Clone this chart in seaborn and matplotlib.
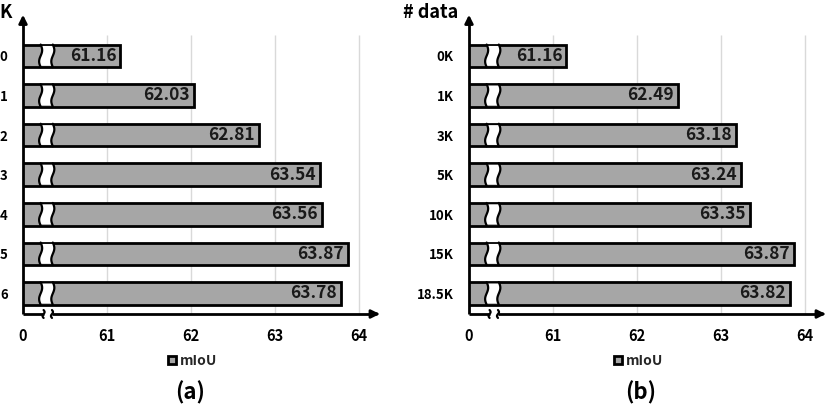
import numpy as np
import pandas as pd
import matplotlib
matplotlib.use("Agg")
import matplotlib.pyplot as plt
import seaborn as sns
from matplotlib.patches import Patch, Polygon

# ---- data ----
k_labels = ['0', '1', '2', '3', '4', '5', '6']
k_miou = [61.16, 62.03, 62.81, 63.54, 63.56, 63.87, 63.78]
data_labels = ['0K', '1K', '3K', '5K', '10K', '15K', '18.5K']
data_miou = [61.16, 62.49, 63.18, 63.24, 63.35, 63.87, 63.82]
x_ticks = [60, 61, 62, 63, 64]
x_ticklabels = ['0', '61', '62', '63', '64']

sns.set_theme(style="white")
plt.rcParams['font.family'] = ['Noto Sans CJK KR', 'DejaVu Sans']
plt.rcParams['font.weight'] = 'bold'

W, H = 830, 407
fig = plt.figure(figsize=(W / 100, H / 100), dpi=100)

BAR_FILL = '#a6a6a6'
XMIN, XMAX = 60, 64.28
YTOP, YBOT = -1.107, 6.52
BAR_H = 0.57


def px_axes(left_px, top_px, right_px, bottom_px):
    return fig.add_axes([left_px / W, (H - bottom_px) / H,
                         (right_px - left_px) / W, (bottom_px - top_px) / H])


def draw_panel(ax, cats, vals, title, legend_center_px, sub_label, sub_center_px):
    df = pd.DataFrame({'cat': cats, 'val': vals})
    for gx in x_ticks[1:]:
        ax.vlines(gx, -0.53, YBOT, color='#d9d9d9', lw=1.0, zorder=0)
    sns.barplot(data=df, x='val', y='cat', orient='h', color=BAR_FILL,
                saturation=1, edgecolor='black', linewidth=2.0, width=BAR_H,
                ax=ax, zorder=2)
    ax.set_xlim(XMIN, XMAX)
    ax.set_ylim(YBOT, YTOP)
    ax.set_xlabel('')
    ax.set_ylabel('')
    for s in ax.spines.values():
        s.set_visible(False)
    ax.set_xticks(x_ticks)
    ax.set_xticklabels(x_ticklabels, fontsize=10.5, fontweight='bold')
    ax.tick_params(axis='x', length=0, pad=10, colors='black')
    ax.tick_params(axis='y', length=0, pad=11, labelsize=9.5, colors='black')
    for t in ax.get_yticklabels():
        t.set_fontweight('bold')

    # value labels
    for i, v in enumerate(vals):
        ax.annotate(f'{v:.2f}', xy=(v, i), xytext=(-3, 0), textcoords='offset points',
                    ha='right', va='center', fontsize=12.5, fontweight='bold',
                    color='#1a1a1a', zorder=6)

    # break bands on bars
    x0, x1 = 60.21, 60.355
    amp = 0.018
    t = np.linspace(0, 1, 40)
    for i in range(len(vals)):
        ya = i - BAR_H / 2 + 0.035
        yb = i + BAR_H / 2 - 0.035
        yy = ya + (yb - ya) * t
        left = x0 + amp * np.sin(2 * np.pi * t)
        right = x1 + amp * np.sin(2 * np.pi * t)
        poly = np.column_stack([np.concatenate([left, right[::-1]]),
                                np.concatenate([yy, yy[::-1]])])
        ax.add_patch(Polygon(poly, closed=True, facecolor='white', edgecolor='none', zorder=3))
        yl = (i - BAR_H / 2) + BAR_H * t
        ax.plot(x0 + amp * np.sin(2 * np.pi * t), yl, color='black', lw=1.6, zorder=4)
        ax.plot(x1 + amp * np.sin(2 * np.pi * t), yl, color='black', lw=1.6, zorder=4)

    # axes lines with break on x-axis
    ax.plot([XMIN, XMIN], [YBOT, YTOP + 0.25], color='black', lw=2.0, zorder=5,
            clip_on=False, solid_capstyle='butt')
    ax.annotate('', xy=(XMIN, YTOP), xytext=(XMIN, YTOP + 0.3),
                arrowprops=dict(arrowstyle='-|>', color='black', lw=2.0, mutation_scale=12),
                annotation_clip=False, zorder=5)
    ax.plot([XMIN, 60.245], [YBOT, YBOT], color='black', lw=2.0, zorder=5, clip_on=False,
            solid_capstyle='butt')
    ax.plot([60.345, XMAX - 0.1], [YBOT, YBOT], color='black', lw=2.0, zorder=5, clip_on=False,
            solid_capstyle='butt')
    ax.annotate('', xy=(XMAX, YBOT), xytext=(XMAX - 0.12, YBOT),
                arrowprops=dict(arrowstyle='-|>', color='black', lw=2.0, mutation_scale=12),
                annotation_clip=False, zorder=5)
    ts = np.linspace(0, 1, 20)
    for bx in (60.245, 60.345):
        yy = YBOT - 0.1 + 0.2 * ts
        ax.plot(bx + 0.012 * np.sin(2 * np.pi * ts), yy, color='black', lw=1.6,
                zorder=5, clip_on=False)

    # title
    ax.annotate(title, xy=(0, 1), xycoords='axes fraction', xytext=(-8, -4),
                textcoords='offset points', ha='right', va='baseline',
                fontsize=13, fontweight='bold', color='black')

    # legend
    handle = Patch(facecolor=BAR_FILL, edgecolor='black', linewidth=2.0)
    fig.legend(handles=[handle], labels=['mIoU'], loc='center',
               bbox_to_anchor=(legend_center_px / W, (H - 361) / H),
               frameon=False, handlelength=0.55, handleheight=0.55,
               handletextpad=0.3, prop={'size': 10, 'weight': 'bold'})
    fig.text(sub_center_px / W, (H - 393) / H, sub_label, ha='center', va='center',
             fontsize=16, fontweight='bold', color='black')


ax1 = px_axes(23, 12, 23 + (XMAX - XMIN) * 84, 314)
draw_panel(ax1, k_labels, k_miou, 'K', 193, '(a)', 190)
ax2 = px_axes(469, 12, 469 + (XMAX - XMIN) * 84, 314)
draw_panel(ax2, data_labels, data_miou, '# data', 639, '(b)', 641)

fig.savefig('out.png', dpi=100)
